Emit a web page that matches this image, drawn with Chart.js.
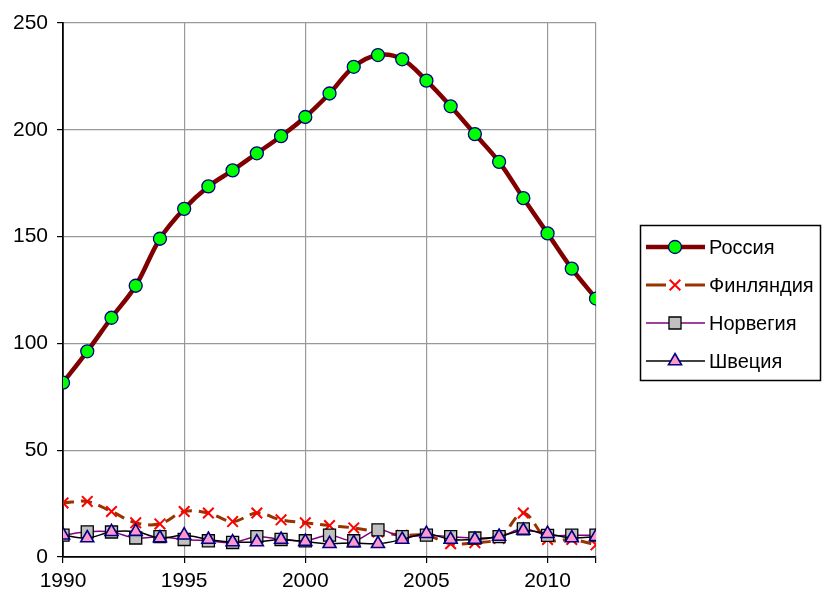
<!DOCTYPE html>
<html lang="ru">
<head>
  <meta charset="UTF-8">
  <title>Россия, Финляндия, Норвегия, Швеция</title>
  <script src="https://cdn.jsdelivr.net/npm/chart.js"></script>
  <style>
    body { margin: 0; background: #fff; }
    .wrap { width: 822px; height: 594px; }
  </style>
</head>
<body>
<div class="wrap"><canvas id="chart" width="822" height="594"></canvas></div>
<script>
const years = [1990, 1991, 1992, 1993, 1994, 1995, 1996, 1997, 1998, 1999, 2000, 2001,
               2002, 2003, 2004, 2005, 2006, 2007, 2008, 2009, 2010, 2011, 2012];
const russia  = [81.6, 96.3, 112, 127, 149, 163, 173.5, 181, 189, 197, 206, 217,
                 229.5, 235, 233, 223, 211, 198, 185, 168, 151.5, 135, 121];
const finland = [25.3, 26, 21.3, 16, 15.5, 21.3, 20.6, 16.6, 20.6, 17.4, 16, 14.7,
                 13.6, 11.7, 10.2, 10.2, 6.2, 6.7, 8.7, 20.6, 8.2, 8.2, 5.7];
const norway  = [10.2, 11.8, 11.7, 8.9, 9.5, 8.2, 7.6, 6.8, 9.5, 8.2, 7.6, 10.2,
                 7.6, 12.7, 9.5, 10.2, 9.5, 8.9, 9.5, 13.2, 10.1, 10.2, 10.2];
const sweden  = [10.2, 8.9, 11.8, 11.9, 8.9, 10.2, 8.2, 7, 7, 8.2, 7.2, 6.2,
                 6.6, 6.2, 8.2, 10.9, 8.2, 8.2, 9.6, 12.4, 10.9, 8.9, 9.5];
const xTicks = [1990, 1995, 2000, 2005, 2010];
const yTicks = [0, 50, 100, 150, 200, 250];

const pts = arr => arr.map((v, i) => ({ x: years[i], y: v }));
const FONT = '"Liberation Sans", Arial, sans-serif';

const series = [
  { label: 'Россия', data: russia, borderColor: '#800000', borderWidth: 4.5, dash: [],
    pointStyle: 'circle', pointRadius: 6.5, pointBackgroundColor: '#00ff00', pointBorderColor: '#000080', pointBorderWidth: 1.3, order: 3 },
  { label: 'Финляндия', data: finland, borderColor: '#993300', borderWidth: 3, dash: [11, 7],
    pointStyle: 'crossRot', pointRadius: 7.5, pointBackgroundColor: '#ff0000', pointBorderColor: '#ff0000', pointBorderWidth: 2, order: 2 },
  { label: 'Норвегия', data: norway, borderColor: '#800080', borderWidth: 1.5, dash: [],
    pointStyle: 'rect', pointRadius: 8.5, pointBackgroundColor: '#c0c0c0', pointBorderColor: '#000000', pointBorderWidth: 1.3, order: 1 },
  { label: 'Швеция', data: sweden, borderColor: '#000000', borderWidth: 1.5, dash: [],
    pointStyle: 'triangle', pointRadius: 7.5, pointBackgroundColor: '#ff99cc', pointBorderColor: '#000080', pointBorderWidth: 1.6, order: 0 }
];

// legend box on the right, drawn like the original
const boxLegend = {
  id: 'boxLegend',
  afterDraw(chart) {
    const ctx = chart.ctx;
    ctx.save();
    ctx.strokeStyle = '#000';
    ctx.lineWidth = 1.5;
    ctx.strokeRect(640.5, 225.5, 180, 155);
    const rows = [247, 285, 323, 361];
    series.forEach((s, i) => {
      const y = rows[i];
      ctx.strokeStyle = s.borderColor;
      ctx.lineWidth = s.borderWidth;
      ctx.beginPath();
      if (s.dash.length) {
        ctx.moveTo(646, y); ctx.lineTo(666, y);
        ctx.moveTo(685, y); ctx.lineTo(705, y);
      } else {
        ctx.moveTo(646, y); ctx.lineTo(705, y);
      }
      ctx.stroke();
      ctx.fillStyle = s.pointBackgroundColor;
      ctx.strokeStyle = s.pointBorderColor;
      ctx.lineWidth = s.pointBorderWidth;
      Chart.helpers.drawPoint(ctx, { pointStyle: s.pointStyle, radius: s.pointRadius, rotation: 0, borderWidth: s.pointBorderWidth }, 675, y);
      ctx.fillStyle = '#000';
      ctx.font = '20px ' + FONT;
      ctx.textBaseline = 'middle';
      ctx.fillText(s.label, 709, y + 1);
    });
    ctx.restore();
  }
};

new Chart(document.getElementById('chart'), {
  type: 'line',
  data: {
    datasets: series.map(s => ({
      label: s.label,
      data: pts(s.data),
      borderColor: s.borderColor,
      borderWidth: s.borderWidth,
      borderDash: s.dash,
      tension: 0.35,
      fill: false,
      pointStyle: s.pointStyle,
      pointRadius: s.pointRadius,
      pointBackgroundColor: s.pointBackgroundColor,
      pointBorderColor: s.pointBorderColor,
      pointBorderWidth: s.pointBorderWidth,
      order: s.order
    }))
  },
  options: {
    responsive: false,
    animation: false,
    layout: { padding: { top: 23, right: 226, left: 4, bottom: 0 } },
    plugins: { legend: { display: false }, tooltip: { enabled: false } },
    scales: {
      x: {
        type: 'linear', min: 1990, max: 2012,
        afterBuildTicks: axis => { axis.ticks = xTicks.concat([2012]).map(v => ({ value: v })); },
        afterFit: axis => { axis.height = 37; },
        ticks: {
          callback: v => (xTicks.includes(v) ? String(v) : ''),
          color: '#000', font: { family: FONT, size: 21, lineHeight: 1 }, padding: 8, maxRotation: 0
        },
        grid: {
          color: c => (c.tick && c.tick.value === 1990 ? 'rgba(0,0,0,0)' : '#999999'),
          tickColor: '#000', tickLength: 6, lineWidth: 1.2
        },
        border: { color: '#000', width: 1.8 }
      },
      y: {
        min: 0, max: 250,
        afterBuildTicks: axis => { axis.ticks = yTicks.map(v => ({ value: v })); },
        ticks: {
          color: '#000', font: { family: FONT, size: 21 }, padding: 9
        },
        grid: {
          color: c => (c.tick && c.tick.value === 0 ? 'rgba(0,0,0,0)' : '#999999'),
          tickColor: '#000', tickLength: 6, lineWidth: 1.2
        },
        border: { color: '#000', width: 1.8 }
      }
    }
  },
  plugins: [boxLegend]
});
</script>
</body>
</html>
